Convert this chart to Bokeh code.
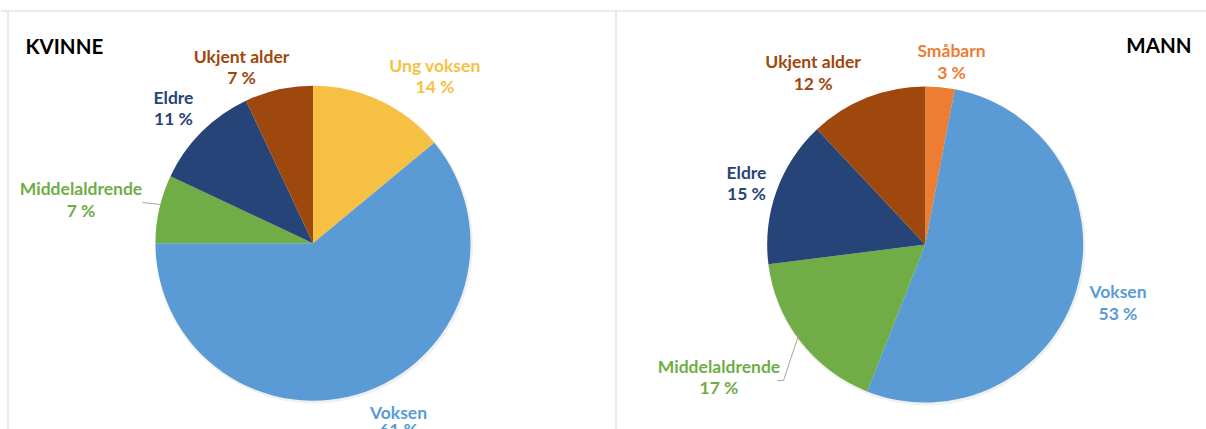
import math
from bokeh.plotting import figure
from bokeh.models import ColumnDataSource, Range1d
from bokeh.core.properties import value
from bokeh.embed import file_html
from bokeh.resources import INLINE

# ---- data ----
kvinne_cats = ["Ung voksen", "Voksen", "Middelaldrende", "Eldre", "Ukjent alder"]
kvinne_vals = [14, 61, 7, 11, 7]
mann_cats = ["Småbarn", "Voksen", "Middelaldrende", "Eldre", "Ukjent alder"]
mann_vals = [3, 53, 17, 15, 12]

colors = {
    "Småbarn": "#ED7D31",
    "Ung voksen": "#F6C143",
    "Voksen": "#5B9BD5",
    "Middelaldrende": "#70AD47",
    "Eldre": "#264478",
    "Ukjent alder": "#9E480E",
}

W, H = 1206, 429


def Y(yref):
    return H - yref


def X(xref):
    return xref


p = figure(width=W, height=H, x_range=Range1d(0, W), y_range=Range1d(0, H),
           output_backend="svg", toolbar_location=None,
           x_axis_location=None, y_axis_location=None, min_border=0)
p.outline_line_color = None
p.grid.visible = False
p.background_fill_color = "white"
p.border_fill_color = "white"

# panel borders
p.segment(x0=[0, X(7.5), X(615.5)], y0=[Y(10.5), Y(10.5), Y(10.5)],
          x1=[W, X(7.5), X(615.5)], y1=[Y(10.5), 0, 0],
          line_color="#e2e2e2", line_width=1.5)


def pie(cats, vals, cx, cy, r, label_pos):
    total = float(sum(vals))
    starts, ends, cum = [], [], 0.0
    for v in vals:
        a0 = math.pi / 2 - 2 * math.pi * cum / total
        cum += v
        a1 = math.pi / 2 - 2 * math.pi * cum / total
        starts.append(a1)
        ends.append(a0)
    src = ColumnDataSource(dict(start=starts, end=ends,
                                color=[colors[c] for c in cats]))
    # soft shadow
    p.circle(x=[cx + 1], y=[cy - 1.5], radius=r + 1.5, fill_color="#000000",
             fill_alpha=0.06, line_color=None)
    p.wedge(x=cx, y=cy, radius=r, start_angle="start", end_angle="end",
            color="color", line_color=None, source=src)
    xs, y1, off, t1, t2, tc = [], [], [], [], [], []
    for c, v in zip(cats, vals):
        lx, b1, b2 = label_pos[c]
        xs.append(X(lx)); y1.append(Y(b1)); off.append(b2 - b1)
        t1.append(c); t2.append(f"{v} %"); tc.append(colors[c])
    s1 = ColumnDataSource(dict(x=xs, y=y1, text=t1, color=tc))
    s2 = ColumnDataSource(dict(x=xs, y=y1, off=off, text=t2, color=tc))
    common = dict(text_color="color", text_align="center",
                  text_baseline="alphabetic", text_font=value("Lato"),
                  text_font_style="bold", text_font_size="17.5px")
    p.text(x="x", y="y", text="text", source=s1, **common)
    p.text(x="x", y="y", text="text", y_offset="off", source=s2, **common)


kv_pos = {
    "Ung voksen": (434.5, 65, 86),
    "Voksen": (398, 412, 429),
    "Middelaldrende": (80.5, 188.3, 210),
    "Eldre": (173, 96.7, 117.7),
    "Ukjent alder": (241, 56, 77),
}
ma_pos = {
    "Småbarn": (951, 50, 71.5),
    "Voksen": (1117.5, 291, 312.5),
    "Middelaldrende": (718.5, 365.7, 386.7),
    "Eldre": (746, 172, 193),
    "Ukjent alder": (812.6, 61, 82.5),
}

pie(kvinne_cats, kvinne_vals, X(312.5), Y(242.7), 157.5, kv_pos)
pie(mann_cats, mann_vals, X(924.7), Y(244), 158, ma_pos)

# leader lines
p.line(x=[X(142), X(160)], y=[Y(202), Y(204)], line_color="#a6a6a6", line_width=1)
p.line(x=[X(777), X(783), X(798)], y=[Y(380), Y(380), Y(335)],
       line_color="#a6a6a6", line_width=1)

# titles
p.text(x=[X(25)], y=[Y(45)], text=["KVINNE"], text_align="left",
       text_baseline="alphabetic", text_font=value("Lato"),
       text_font_style="bold", text_font_size="20.5px", text_color="#000000")
p.text(x=[X(1191)], y=[Y(44.5)], text=["MANN"], text_align="right",
       text_baseline="alphabetic", text_font=value("Lato"),
       text_font_style="bold", text_font_size="20.5px", text_color="#000000")

open("out.html", "w").write(file_html(p, INLINE))
